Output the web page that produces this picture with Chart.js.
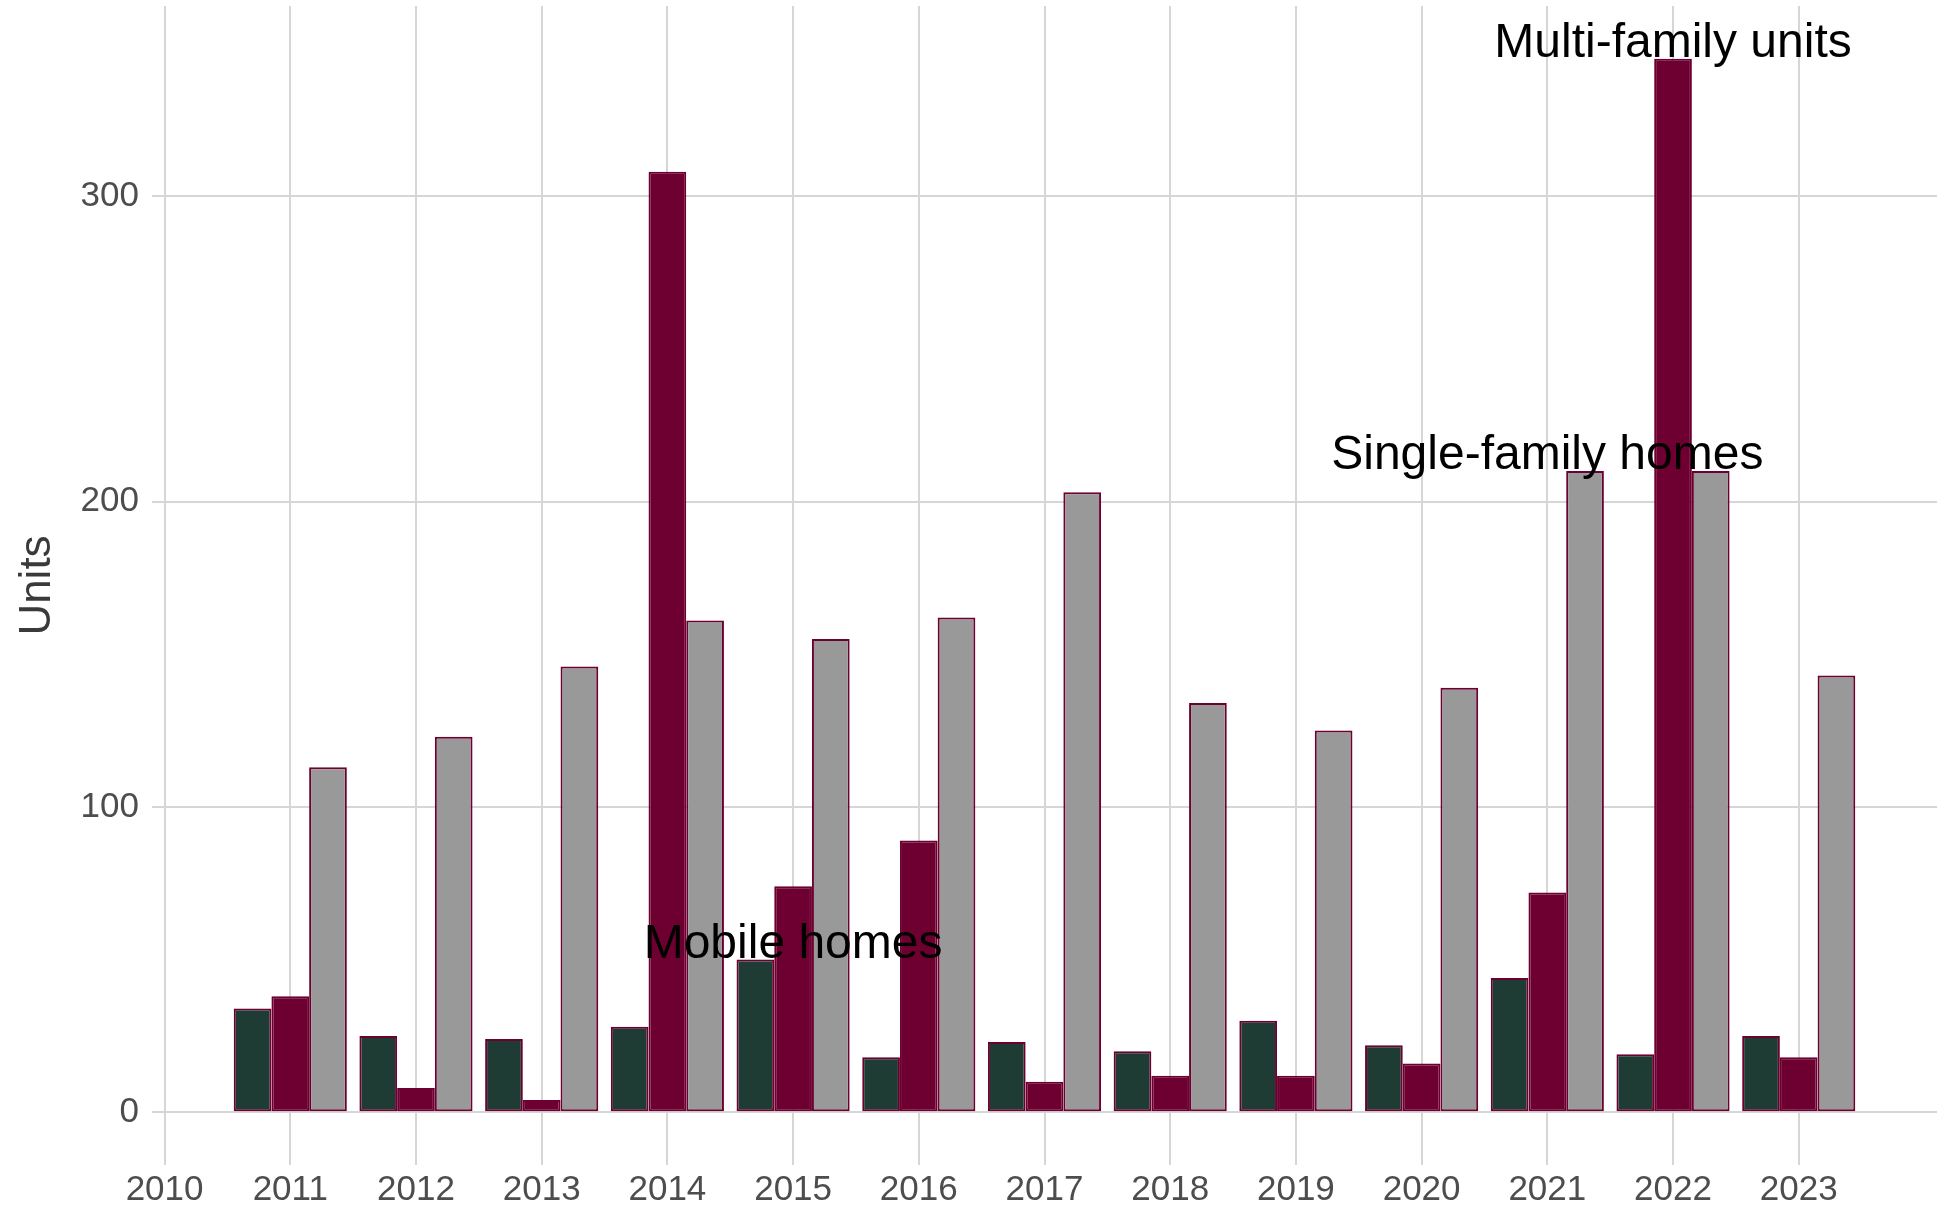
<!DOCTYPE html>
<html>
<head>
<meta charset="utf-8">
<script src="https://cdn.jsdelivr.net/npm/chart.js@4"></script>
<style>
  html, body { margin: 0; padding: 0; background: #fff; }
  #wrap { width: 1944px; height: 1210px; }
</style>
</head>
<body>
<div id="wrap"><canvas id="housingChart" width="1944" height="1210"></canvas></div>
<script>
const years = [2011, 2012, 2013, 2014, 2015, 2016, 2017, 2018, 2019, 2020, 2021, 2022, 2023];
const xTickYears = [2010, 2011, 2012, 2013, 2014, 2015, 2016, 2017, 2018, 2019, 2020, 2021, 2022, 2023];
const yTickValues = [0, 100, 200, 300];

const seriesNames = ["Mobile homes", "Multi-family units", "Single-family homes"];
const mobileHomes = [34, 25, 24, 28, 50, 18, 23, 20, 30, 22, 44, 19, 25];
const multiFamily = [38, 8, 4, 308, 74, 89, 10, 12, 12, 16, 72, 345, 18];
const singleFamily = [113, 123, 146, 161, 155, 162, 203, 134, 125, 139, 210, 210, 143];

const fills = ["#1f3c34", "#6d0030", "#999999"];
const edge = "#6d0030";
const gridColor = "#d6d6d6";
const fontFamily = "'Liberation Sans', Arial, Helvetica, sans-serif";

const allSeries = [mobileHomes, multiFamily, singleFamily];

function toPoints(vals) {
  return vals.map((v, i) => ({ x: years[i], y: v }));
}

// no extra room for half tick labels at the ends
function noEndPadding(scale) {
  scale.paddingTop = 0;
  scale.paddingBottom = 0;
  scale.paddingLeft = 0;
  scale.paddingRight = 0;
}

// series name written above each series' highest bar
const seriesLabels = {
  id: "seriesLabels",
  afterDatasetsDraw(chart) {
    const { ctx, scales } = chart;
    ctx.save();
    ctx.font = "48px " + fontFamily;
    ctx.fillStyle = "#000";
    ctx.textAlign = "center";
    ctx.textBaseline = "middle";
    allSeries.forEach((vals, s) => {
      let top = 0;
      vals.forEach((v, i) => { if (v > vals[top]) top = i; });
      const px = scales.x.getPixelForValue(years[top]);
      const py = scales.y.getPixelForValue(vals[top] + 5);
      ctx.fillText(seriesNames[s], px, py);
    });
    ctx.restore();
  }
};

new Chart(document.getElementById("housingChart").getContext("2d"), {
  type: "bar",
  data: {
    datasets: allSeries.map((vals, s) => ({
      label: seriesNames[s],
      data: toPoints(vals),
      backgroundColor: fills[s],
      borderColor: edge,
      borderWidth: 2,
      borderSkipped: false,
      categoryPercentage: 0.9,
      barPercentage: 1.0
    }))
  },
  options: {
    responsive: false,
    animation: false,
    layout: { padding: { top: 6, right: 7, bottom: 0, left: 0 } },
    plugins: { legend: { display: false }, tooltip: { enabled: false } },
    scales: {
      x: {
        type: "linear",
        offset: false,
        min: 2009.9,
        max: 2024.1,
        afterBuildTicks: (scale) => { scale.ticks = xTickYears.map(v => ({ value: v })); },
        afterFit: (scale) => { scale.height = 45; noEndPadding(scale); },
        grid: { color: gridColor, lineWidth: 2, drawTicks: false, offset: false },
        border: { display: false },
        ticks: {
          padding: 4,
          color: "#4d4d4d",
          font: { family: fontFamily, size: 35 },
          callback: (v) => String(v),
          maxRotation: 0,
          autoSkip: false
        }
      },
      y: {
        min: -17.25,
        max: 362.25,
        afterBuildTicks: (scale) => { scale.ticks = yTickValues.map(v => ({ value: v })); },
        afterFit: (scale) => { scale.width = 152; noEndPadding(scale); },
        grid: { color: gridColor, lineWidth: 2, drawTicks: false },
        border: { display: false },
        ticks: {
          padding: 13,
          color: "#4d4d4d",
          font: { family: fontFamily, size: 35 }
        },
        title: {
          display: true,
          text: "Units",
          color: "#3a3a3a",
          font: { family: fontFamily, size: 44 },
          padding: { top: 11, bottom: 0 }
        }
      }
    }
  },
  plugins: [seriesLabels]
});
</script>
</body>
</html>
